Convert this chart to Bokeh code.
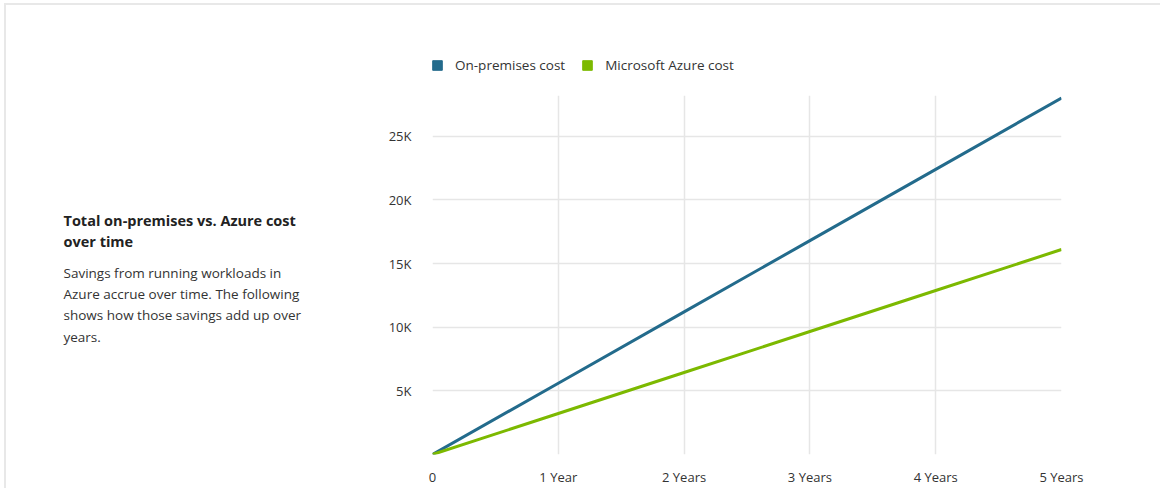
from bokeh.plotting import figure
from bokeh.layouts import column, row
from bokeh.models import Legend, LegendItem, FixedTicker, Range1d
from bokeh.core.properties import value
from bokeh.embed import file_html
from bokeh.resources import INLINE

years = [0, 1, 2, 3, 4, 5]
x_labels = ["0", "1 Year", "2 Years", "3 Years", "4 Years", "5 Years"]
onprem_cost = [0, 5600, 11200, 16800, 22400, 28000]
azure_cost = [0, 3220, 6440, 9660, 12880, 16100]
y_ticks = [0, 5000, 10000, 15000, 20000, 25000]
y_labels = ["", "5K", "10K", "15K", "20K", "25K"]
series_names = ["On-premises cost", "Microsoft Azure cost"]
title_lines = ["Total on-premises vs. Azure cost", "over time"]
body_lines = ["Savings from running workloads in", "Azure accrue over time. The following",
              "shows how those savings add up over", "years."]

FONT = "Open Sans"
C_ONPREM = "#236b8c"
C_AZURE = "#7cb900"
GRID = "#e6e6e6"
W, H = 1160, 488
TOP_H = 80
LEFT_W = 340
B_TOP, B_BOTTOM = 15, 34


def blank(width, height, x0, x1, y0, y1, **kw):
    f = figure(width=width, height=height, output_backend="svg", toolbar_location=None,
               x_range=Range1d(x0, x1), y_range=Range1d(y0, y1),
               min_border=0, **kw)
    f.axis.visible = False
    f.grid.visible = False
    f.outline_line_color = None
    f.background_fill_color = None
    f.border_fill_color = None
    return f


# ---- legend strip ----
lf = blank(W, TOP_H, 0, W, TOP_H, 0,
           min_border_left=0, min_border_right=0, min_border_top=0, min_border_bottom=0)
nan = float("nan")
s1 = lf.scatter(x=[nan], y=[nan], marker="square", color=C_ONPREM, size=0)
s2 = lf.scatter(x=[nan], y=[nan], marker="square", color=C_AZURE, size=0)
legend = Legend(items=[LegendItem(label=series_names[0], renderers=[s1]),
                       LegendItem(label=series_names[1], renderers=[s2])],
                orientation="horizontal", location=(425, 3),
                glyph_width=24, glyph_height=24, label_standoff=6, spacing=10,
                padding=0, margin=0, border_line_color=None, background_fill_alpha=0,
                label_text_font=FONT, label_text_font_size="13.5px", label_text_color="#333333")
lf.add_layout(legend, "center")

# ---- left text block (frame aligned with the chart frame) ----
tf = blank(LEFT_W, H - TOP_H, 0, LEFT_W, 454, 95,
           min_border_left=0, min_border_right=0, min_border_top=B_TOP, min_border_bottom=B_BOTTOM)
tf.text(x=[63] * len(title_lines), y=[220 + 20.5 * i for i in range(len(title_lines))],
        text=title_lines, text_font=value(FONT), text_font_size="14.5px",
        text_font_style="bold", text_color="#222222", text_baseline="alphabetic")
tf.text(x=[63] * len(body_lines), y=[272 + 21.4 * i for i in range(len(body_lines))],
        text=body_lines, text_font=value(FONT), text_font_size="13.5px",
        text_color="#333333", text_baseline="alphabetic")

# ---- chart ----
p = figure(width=W - LEFT_W, height=H - TOP_H, output_backend="svg", toolbar_location=None,
           x_range=Range1d(0, 5), y_range=Range1d(0, 28200),
           min_border_left=92, min_border_right=99, min_border_top=B_TOP, min_border_bottom=B_BOTTOM)
p.outline_line_color = None
p.border_fill_color = None
p.background_fill_color = "white"

p.line(years, onprem_cost, line_color=C_ONPREM, line_width=3)
p.line(years, azure_cost, line_color=C_AZURE, line_width=3)

p.xaxis.ticker = FixedTicker(ticks=years)
p.xaxis.major_label_overrides = {k: v for k, v in zip(years, x_labels)}
p.yaxis.ticker = FixedTicker(ticks=y_ticks)
p.yaxis.major_label_overrides = {k: v for k, v in zip(y_ticks, y_labels)}
for ax in (p.xaxis, p.yaxis):
    ax.axis_line_color = None
    ax.major_tick_line_color = None
    ax.minor_tick_line_color = None
    ax.major_tick_out = 0
    ax.major_tick_in = 0
    ax.minor_tick_out = 0
    ax.minor_tick_in = 0
    ax.major_label_text_font = FONT
    ax.major_label_text_font_size = "13px"
    ax.major_label_text_color = "#333333"
p.xaxis.major_label_standoff = 13
p.yaxis.major_label_standoff = 21

p.xgrid.ticker = FixedTicker(ticks=years)
p.ygrid.ticker = FixedTicker(ticks=y_ticks)
p.grid.grid_line_color = GRID
p.grid.grid_line_width = 1.5

layout = column(lf, row(tf, p, spacing=0), spacing=0)
layout.styles = {"box-shadow": "inset 4px 3px 0 0 white, inset 6px 5px 0 0 #e8e8e8"}

open("out.html", "w").write(file_html(layout, INLINE))
